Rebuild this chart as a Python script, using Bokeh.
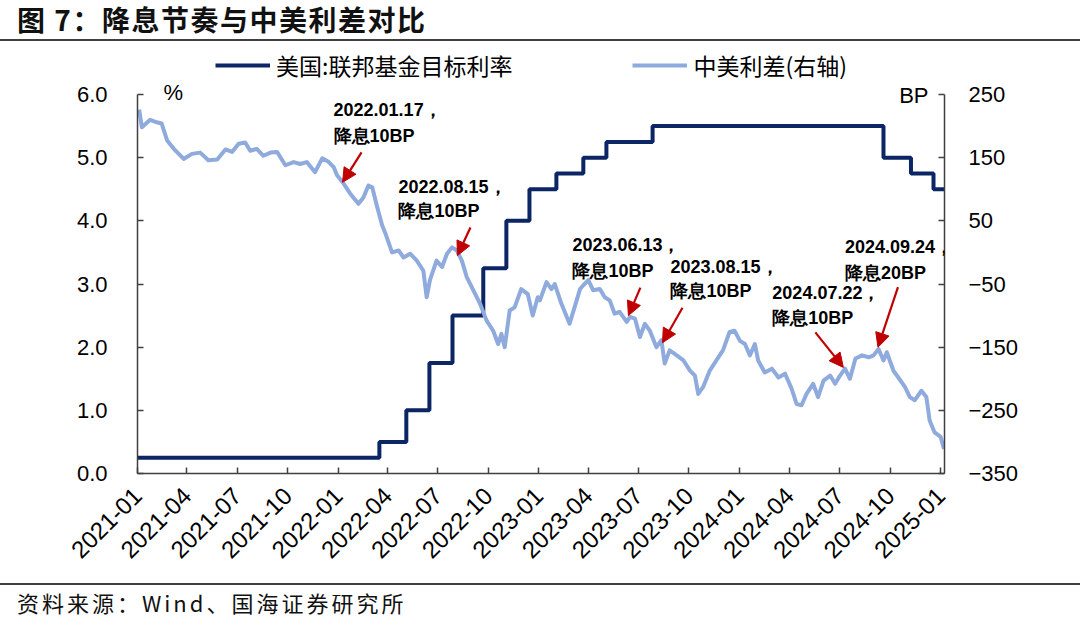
import pandas as pd
from bokeh.plotting import figure
from bokeh.layouts import column
from bokeh.models import (Range1d, LinearAxis, FixedTicker, DatetimeTickFormatter, Label,
                          Arrow, NormalHead, Legend, LegendItem, Div,
                          NumeralTickFormatter, BasicTickFormatter)
from bokeh.embed import file_html
from bokeh.resources import INLINE

# ---------------- data ----------------
fed_dates = ["2021-01-01", "2022-03-17", "2022-05-05", "2022-06-16", "2022-07-28",
             "2022-09-22", "2022-11-03", "2022-12-15", "2023-02-02", "2023-03-23",
             "2023-05-04", "2023-07-27", "2024-09-19", "2024-11-08", "2024-12-19",
             "2025-01-08"]
fed_rate = [0.25, 0.50, 1.00, 1.75, 2.50, 3.25, 4.00, 4.50, 4.75, 5.00,
            5.25, 5.50, 5.00, 4.75, 4.50, 4.50]

spread_dates = [
    "2021-01-04", "2021-01-09", "2021-01-24", "2021-02-05", "2021-02-14", "2021-02-24",
    "2021-03-08", "2021-03-26", "2021-04-10", "2021-04-25", "2021-05-10", "2021-05-26",
    "2021-06-10", "2021-06-22", "2021-07-04", "2021-07-16", "2021-07-25", "2021-08-06",
    "2021-08-18", "2021-08-31", "2021-09-12", "2021-09-27", "2021-10-12", "2021-10-24",
    "2021-11-05", "2021-11-20", "2021-12-03", "2021-12-15", "2021-12-24", "2021-12-30",
    "2022-01-11", "2022-01-23", "2022-02-07", "2022-02-16", "2022-02-25", "2022-03-04",
    "2022-03-13", "2022-03-22", "2022-03-28", "2022-04-09", "2022-04-21", "2022-04-30",
    "2022-05-12", "2022-05-24", "2022-06-05", "2022-06-11", "2022-06-17", "2022-06-29",
    "2022-07-09", "2022-07-18", "2022-07-27", "2022-08-05", "2022-08-14", "2022-08-23",
    "2022-09-04", "2022-09-16", "2022-09-28", "2022-10-10", "2022-10-19", "2022-10-25",
    "2022-10-31", "2022-11-09", "2022-11-18", "2022-11-30", "2022-12-12", "2022-12-21",
    "2022-12-30", "2023-01-03", "2023-01-15", "2023-01-24", "2023-01-30", "2023-02-11",
    "2023-02-26", "2023-03-07", "2023-03-17", "2023-03-23", "2023-04-01", "2023-04-10",
    "2023-04-22", "2023-05-01", "2023-05-10", "2023-05-19", "2023-05-28", "2023-06-10",
    "2023-06-16", "2023-06-25", "2023-07-04", "2023-07-13", "2023-07-22", "2023-08-03",
    "2023-08-12", "2023-08-18", "2023-08-27", "2023-09-09", "2023-09-21", "2023-10-03",
    "2023-10-12", "2023-10-18", "2023-10-27", "2023-11-08", "2023-11-20", "2023-12-02",
    "2023-12-14", "2023-12-23", "2024-01-02", "2024-01-11", "2024-01-20", "2024-01-29",
    "2024-02-04", "2024-02-16", "2024-02-29", "2024-03-12", "2024-03-24", "2024-04-05",
    "2024-04-14", "2024-04-23", "2024-05-02", "2024-05-14", "2024-05-23", "2024-06-02",
    "2024-06-14", "2024-06-23", "2024-07-02", "2024-07-11", "2024-07-20", "2024-07-30",
    "2024-08-11", "2024-08-23", "2024-09-01", "2024-09-10", "2024-09-19", "2024-09-25",
    "2024-10-07", "2024-10-16", "2024-10-28", "2024-11-06", "2024-11-15", "2024-11-27",
    "2024-12-06", "2024-12-12", "2024-12-21", "2025-01-01", "2025-01-07"]
spread_bp = [
    226, 198, 210, 206, 204, 177,
    164, 148, 156, 158, 146, 147,
    163, 159, 172, 174, 161, 164,
    153, 158, 159, 138, 143, 140,
    143, 127, 149, 143, 135, 122,
    109, 93, 77, 87, 106, 103,
    72, 43, 30, 0, 3, -8,
    -2, -13, -29, -71, -44, -13,
    -23, -2, 8, 3, -13, -39,
    -60, -81, -108, -124, -145, -129,
    -150, -92, -87, -58, -66, -100,
    -71, -76, -47, -58, -50, -81,
    -113, -87, -58, -52, -44, -60,
    -58, -71, -76, -97, -94, -110,
    -102, -105, -134, -113, -124, -150,
    -139, -176, -155, -163, -171, -187,
    -195, -224, -213, -187, -171, -155,
    -126, -124, -140, -145, -163, -145,
    -171, -190, -184, -198, -192, -216,
    -240, -242, -224, -208, -229, -203,
    -195, -208, -195, -184, -200, -168,
    -163, -166, -163, -153, -171, -158,
    -187, -198, -213, -229, -234, -219,
    -229, -266, -285, -292, -311]

x_tick_labels = ["2021-01", "2021-04", "2021-07", "2021-10", "2022-01", "2022-04",
                 "2022-07", "2022-10", "2023-01", "2023-04", "2023-07", "2023-10",
                 "2024-01", "2024-04", "2024-07", "2024-10", "2025-01"]
left_ticks = [0, 1, 2, 3, 4, 5, 6]
right_ticks = [-350, -250, -150, -50, 50, 150, 250]

note_dates = ["2022.01.17，", "2022.08.15，", "2023.06.13，", "2023.08.15，",
              "2024.07.22，", "2024.09.24，"]
note_texts = ["降息10BP", "降息10BP", "降息10BP", "降息10BP", "降息10BP", "降息20BP"]
note_tip_dates = ["2022-01-09", "2022-08-06", "2023-06-13", "2023-08-14",
                  "2024-07-08", "2024-09-09"]
note_tip_bp = [111, -5, -100, -143, -182, -150]

title_text = "图 7：降息节奏与中美利差对比"
source_text = "资料来源：Wind、国海证券研究所"
fed_name = "美国:联邦基金目标利率"
spread_name = "中美利差(右轴)"

# ---------------- layout / style ----------------
W = 1080
TOP_H = 44          # title strip (canvas y 0..44)
MAIN_TOP = 44       # main figure occupies canvas y 44..575
MAIN_BOT = 575
BOT_H = 618 - MAIN_BOT
FL, FR = 137, 944   # frame left/right (canvas)
Y6, Y0 = 94, 473    # canvas y of 6.0 and 0.0
FRAME_TOP = 48      # frame extended above 6.0 so unit labels/legend are not clipped
NAVY = "#0B2565"
LBLUE = "#8FAADC"
RED = "#C00000"
AXC = "#404040"
TICKFONT = "Liberation Sans"
CJK = "Noto Sans CJK SC"


def ms(d):
    return pd.Timestamp(d).value / 1e6


# ---- top strip: title + separator ----
top_html = (
    f'<div style="position:relative;width:{W}px;height:{TOP_H}px;background:white;">'
    f'<div style="position:absolute;left:17px;top:2px;height:34px;line-height:34px;'
    f"font-family:'{CJK}';font-size:28px;font-weight:bold;color:#111111;"
    f'letter-spacing:1.5px;white-space:nowrap;">{title_text}</div>'
    f'<div style="position:absolute;left:0px;top:39px;width:{W}px;height:2px;'
    f'background:{AXC};"></div></div>')
pt = Div(text=top_html, width=W, height=TOP_H, margin=(0, 0, 0, 0))

# ---- main chart ----
px_per_unit = (Y0 - Y6) / 6.0
y_top = 6.0 + (Y6 - FRAME_TOP) / px_per_unit
x0, x1 = ms("2021-01-01"), ms("2025-01-08")
p = figure(width=W, height=MAIN_BOT - MAIN_TOP, x_axis_type="datetime",
           output_backend="svg", toolbar_location=None,
           x_range=Range1d(x0, x1), y_range=Range1d(0, y_top),
           min_border_left=FL, min_border_right=W - FR,
           min_border_top=FRAME_TOP - MAIN_TOP, min_border_bottom=MAIN_BOT - Y0,
           margin=(0, 0, 0, 0))
p.outline_line_color = None
p.grid.visible = False
p.background_fill_color = "white"
p.border_fill_color = "white"
p.extra_y_ranges = {"bp": Range1d(-350, -350 + 100 * y_top)}

r_fed = p.step([pd.Timestamp(d) for d in fed_dates], fed_rate, mode="after",
               line_color=NAVY, line_width=4)
r_spr = p.line([pd.Timestamp(d) for d in spread_dates], spread_bp, y_range_name="bp",
               line_color=LBLUE, line_width=4, line_join="round")

raxis = LinearAxis(y_range_name="bp")
p.add_layout(raxis, "right")


def style(ax, size="22px"):
    ax.axis_line_color = AXC
    ax.axis_line_width = 1.5
    ax.major_tick_line_color = AXC
    ax.major_tick_line_width = 1.5
    ax.major_tick_in = 6
    ax.major_tick_out = 0
    ax.minor_tick_line_color = None
    ax.major_label_text_font = TICKFONT
    ax.major_label_text_font_size = size
    ax.major_label_text_color = "#000000"


style(p.xaxis[0], "24px")
style(p.yaxis[0])
style(raxis)

p.yaxis[0].ticker = FixedTicker(ticks=left_ticks)
p.yaxis[0].formatter = NumeralTickFormatter(format="0.0")
p.yaxis[0].major_label_standoff = 30
p.yaxis[0].bounds = (left_ticks[0], left_ticks[-1])
raxis.ticker = FixedTicker(ticks=right_ticks)
raxis.formatter = BasicTickFormatter()
raxis.major_label_standoff = 24
raxis.bounds = (right_ticks[0], right_ticks[-1])

p.xaxis[0].ticker = FixedTicker(ticks=[ms(t + "-01") for t in x_tick_labels])
p.xaxis[0].formatter = DatetimeTickFormatter(days="%Y-%m", months="%Y-%m", years="%Y-%m",
                                             strip_leading_zeros=False)
p.xaxis[0].major_label_orientation = 0.785398
p.xaxis[0].major_label_standoff = 18


def scr(cx, cy):
    # canvas coords -> screen units relative to frame bottom-left
    return cx - FL, Y0 - cy


def add_label(text, cx, cy, font, size, bold=False, align="left"):
    sx, sy = scr(cx, cy)
    p.add_layout(Label(x=sx, y=sy, x_units="screen", y_units="screen", text=text,
                       text_font=font, text_font_size=size,
                       text_font_style="bold" if bold else "normal",
                       text_align=align, text_baseline="middle", text_color="#000000"))


add_label("%", 163, 92, TICKFONT, "22px")
add_label("BP", 928, 95, TICKFONT, "22px", align="right")

# legend (inside the extended frame)
lx, ly = scr(215, 82)
legend = Legend(items=[LegendItem(label=fed_name, renderers=[r_fed]),
                       LegendItem(label=spread_name, renderers=[r_spr])],
                orientation="horizontal", location=(lx, ly),
                glyph_width=55, glyph_height=26, label_standoff=6, spacing=120,
                padding=0, margin=0, border_line_color=None, background_fill_alpha=0,
                label_text_font=CJK, label_text_font_size="23px",
                label_text_color="#000000", label_height=26)
p.add_layout(legend)

# annotations with arrows
px_per_ms = (FR - FL) / (x1 - x0)
px_per_bp = px_per_unit / 100.0
arrow_off = [(19, -30), (13, -28), (12, -28), (20, -35), (-28, -35), (20, -60)]
text_off = [(-9, -72, -46), (-59, -69, -45), (-56, -71, -45), (8, -76, -52),
            (-71, -74, -49), (-33, -100, -74)]
for i in range(len(note_dates)):
    tx = ms(note_tip_dates[i])
    ty = note_tip_bp[i]
    dx, dy = arrow_off[i]
    p.add_layout(Arrow(x_start=tx + dx / px_per_ms, y_start=ty - dy / px_per_bp,
                       x_end=tx, y_end=ty, y_range_name="bp",
                       line_color=RED, line_width=2.2,
                       end=NormalHead(size=14, fill_color=RED, line_color=RED)))
    ox, oy1, oy2 = text_off[i]
    for txt, oy in ((note_dates[i], oy1), (note_texts[i], oy2)):
        p.add_layout(Label(x=tx, y=ty, y_range_name="bp", x_offset=ox, y_offset=-oy,
                           text=txt, text_font=TICKFONT, text_font_size="18px",
                           text_font_style="bold", text_align="left",
                           text_baseline="middle", text_color="#000000"))

# ---- bottom strip: separator + source ----
bot_html = (
    f'<div style="position:relative;width:{W}px;height:{BOT_H}px;background:white;">'
    f'<div style="position:absolute;left:0px;top:8px;width:{W}px;height:2px;'
    f'background:{AXC};"></div>'
    f'<div style="position:absolute;left:17px;top:13px;height:28px;line-height:28px;'
    f"font-family:'{CJK}';font-size:22px;color:#111111;letter-spacing:3px;"
    f'white-space:nowrap;">{source_text}</div></div>')
pb = Div(text=bot_html, width=W, height=BOT_H, margin=(0, 0, 0, 0))

layout = column(pt, p, pb, spacing=0)
open("out.html", "w").write(file_html(layout, INLINE))
